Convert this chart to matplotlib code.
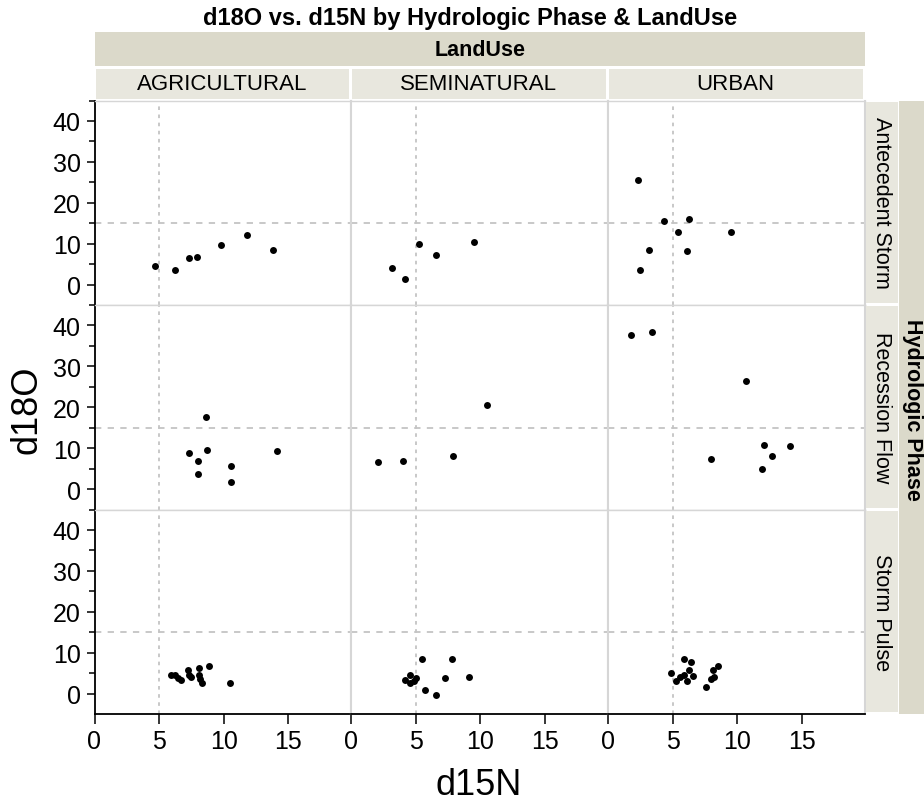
import matplotlib
matplotlib.use("Agg")
import matplotlib.pyplot as plt
from matplotlib.ticker import MultipleLocator

plt.rcParams['font.family'] = ['Liberation Sans', 'DejaVu Sans']

# facets
landuse = ['AGRICULTURAL', 'SEMINATURAL', 'URBAN']
phases = ['Antecedent Storm', 'Recession Flow', 'Storm Pulse']

# AGRICULTURAL
ag_ante_n = [4.7, 6.2, 7.3, 7.9, 9.8, 11.8, 13.8]
ag_ante_o = [4.6, 3.7, 6.5, 6.9, 9.7, 12.1, 8.4]
ag_rec_n = [8.6, 7.3, 8.7, 8.0, 8.0, 10.6, 10.6, 14.1]
ag_rec_o = [17.7, 8.9, 9.7, 6.9, 3.7, 5.8, 1.7, 9.3]
ag_sp_n = [5.9, 6.2, 6.7, 6.5, 7.2, 7.35, 7.5, 8.1, 8.1, 8.2, 8.3, 8.85, 10.45]
ag_sp_o = [4.7, 4.5, 3.4, 3.9, 5.9, 4.5, 4.1, 6.3, 4.7, 3.7, 2.6, 6.7, 2.6]

# SEMINATURAL
semi_ante_n = [5.3, 6.6, 9.5, 3.2, 4.2]
semi_ante_o = [10.1, 7.3, 10.5, 4.1, 1.4]
semi_rec_n = [2.1, 4.0, 7.9, 10.5]
semi_rec_o = [6.6, 7.0, 8.2, 20.6]
semi_sp_n = [5.5, 7.8, 4.6, 4.2, 4.6, 5.0, 4.9, 5.7, 6.6, 7.3, 9.1]
semi_sp_o = [8.5, 8.5, 4.5, 3.4, 2.6, 3.8, 3.1, 1.0, -0.2, 3.8, 4.2]

# URBAN
urb_ante_n = [2.35, 4.3, 6.3, 5.4, 9.5, 3.2, 6.1, 2.5]
urb_ante_o = [25.7, 15.7, 16.2, 12.9, 12.9, 8.6, 8.2, 3.7]
urb_rec_n = [1.8, 3.4, 10.7, 12.1, 14.05, 12.7, 8.0, 11.9]
urb_rec_o = [37.7, 38.4, 26.5, 10.9, 10.6, 8.2, 7.4, 5.0]
urb_sp_n = [5.9, 6.4, 4.9, 5.6, 5.3, 5.9, 6.3, 6.15, 6.6, 7.6, 7.95, 8.2, 8.15, 8.5]
urb_sp_o = [8.6, 7.9, 5.0, 4.2, 3.1, 4.6, 5.9, 3.1, 4.3, 1.8, 3.7, 4.1, 5.9, 6.7]

data_x = [[ag_ante_n, semi_ante_n, urb_ante_n],
          [ag_rec_n, semi_rec_n, urb_rec_n],
          [ag_sp_n, semi_sp_n, urb_sp_n]]
data_y = [[ag_ante_o, semi_ante_o, urb_ante_o],
          [ag_rec_o, semi_rec_o, urb_rec_o],
          [ag_sp_o, semi_sp_o, urb_sp_o]]

W, H = 924, 804
fig = plt.figure(figsize=(W / 100, H / 100), dpi=100)


def box(x, y, w, h):
    # pixel box measured from the top left
    return [x / W, 1 - (y + h) / H, w / W, h / H]


def strip(x, y, w, h, color, label, size, bold=False, rot=0):
    sax = fig.add_axes(box(x, y, w, h))
    sax.set_facecolor(color)
    sax.set_xticks([])
    sax.set_yticks([])
    for sp in sax.spines.values():
        sp.set_visible(False)
    sax.text(0.5, 0.5, label, ha='center', va='center', fontsize=size,
             fontweight='bold' if bold else 'normal', rotation=rot,
             transform=sax.transAxes, color='black')
    return sax


lefts = [94.5, 351, 608]
tops = [101.5, 306, 510.5]
pw, ph = 256.5, 204.5
grid_c = '#c4c4c4'
edge_c = '#d6d6d6'
outer_c = '#dbd9ca'
inner_c = '#e8e7de'

for i in range(3):
    for j in range(3):
        ax = fig.add_axes(box(lefts[j], tops[i], pw, ph))
        ax.set_xlim(0, 19.85)
        ax.set_ylim(-4.9, 45.0)
        ax.axvline(5, color=grid_c, lw=1.3, ls=(0, (2, 2.5)), zorder=0)
        ax.axhline(15, color=grid_c, lw=1.3, ls=(0, (3.5, 3.5)), zorder=0)
        ax.scatter(data_x[i][j], data_y[i][j], s=25, c='black', linewidths=0, zorder=3)
        for sp in ax.spines.values():
            sp.set_color(edge_c)
            sp.set_linewidth(1.5)
        ax.spines['top'].set_linewidth(1.0)
        ax.spines['bottom'].set_linewidth(1.0)
        if j == 0:
            ax.spines['left'].set_color('black')
            ax.spines['left'].set_linewidth(1.3)
            ax.yaxis.set_major_locator(MultipleLocator(10))
            ax.yaxis.set_minor_locator(MultipleLocator(5))
            ax.tick_params(axis='y', which='major', direction='out', length=6,
                           width=1.1, labelsize=18, pad=4)
            ax.tick_params(axis='y', which='minor', direction='out', length=4, width=1.1)
        else:
            ax.tick_params(axis='y', which='both', left=False, labelleft=False)
        if i == 2:
            ax.spines['bottom'].set_color('black')
            ax.spines['bottom'].set_linewidth(1.3)
            ax.set_xticks([0, 5, 10, 15])
            ax.tick_params(axis='x', direction='out', length=7, width=1.1,
                           labelsize=18, pad=4)
        else:
            ax.tick_params(axis='x', bottom=False, labelbottom=False)

# column strips
strip(94.5, 33, 770.5, 34, outer_c, 'LandUse', 15.5, bold=True)
for j in range(3):
    strip(lefts[j] + 1, 70, pw - 3, 30, inner_c, landuse[j], 16)

# row strips
for i in range(3):
    strip(866, tops[i] + 1, 32, ph - 3, inner_c, phases[i], 15.5, rot=270)
strip(899, 102, 25, 613, outer_c, '', 13)
fig.text(912 / W, 1 - 410 / H, 'Hydrologic Phase', rotation=270, ha='center',
         va='center', fontsize=15.5, fontweight='bold')

fig.text(470 / W, 1 - 18 / H, 'd18O vs. d15N by Hydrologic Phase & LandUse',
         ha='center', va='center', fontsize=17, fontweight='bold')
fig.text(27 / W, 1 - 410 / H, 'd18O', rotation=90, ha='center', va='center', fontsize=26)
fig.text(479 / W, 1 - 786 / H, 'd15N', ha='center', va='center', fontsize=26)

fig.savefig('out.png', dpi=100)
